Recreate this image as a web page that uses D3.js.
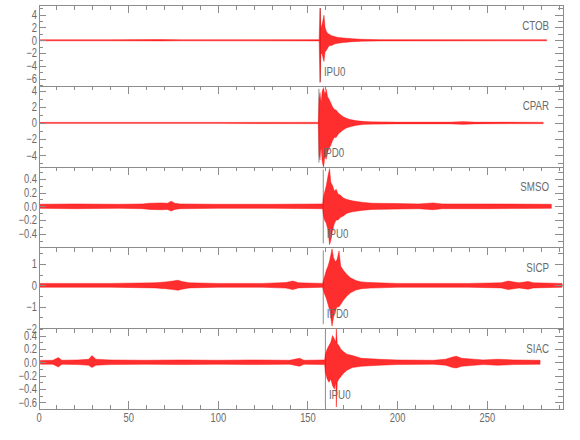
<!DOCTYPE html>
<html>
<head>
<meta charset="utf-8">
<script src="https://cdn.jsdelivr.net/npm/d3@7"></script>
<style>
body { margin: 0; background: #fff; }
svg { display: block; }
text { font-family: "Liberation Sans", Arial, sans-serif; }
.axis path, .axis line { stroke: #8c8c8c; stroke-width: 1; shape-rendering: crispEdges; }
.axis text { fill: #6a6a6a; font-size: 12px; }
</style>
</head>
<body>
<script>
var stations = ["CTOB", "CPAR", "SMSO", "SICP", "SIAC"];
var picks = ["IPU0", "IPD0", "IPU0", "IPD0", "IPU0"];
var pickTimes = [157.2, 156.4, 158.8, 158.8, 160.0];

var yDomains = [[-7.1, 5.5], [-5.4, 4.6], [-0.6, 0.58], [-2.0, 1.77], [-0.70, 0.51]];
var yMajor = [
	[-6, -4, -2, 0, 2, 4],
	[-4, -2, 0, 2, 4],
	[-0.4, -0.2, 0, 0.2, 0.4],
	[-2, -1, 0, 1],
	[-0.6, -0.4, -0.2, 0, 0.2, 0.4]
];
var yMinor = [
	[-7, -5, -3, -1, 1, 3, 5],
	[-5, -3, -1, 1, 3],
	[-0.5, -0.3, -0.1, 0.1, 0.3, 0.5],
	[-1.5, -0.5, 0.5, 1.5],
	[-0.7, -0.5, -0.3, -0.1, 0.1, 0.3, 0.5]
];
var yFormats = ["d", "d", ".1f", "d", ".1f"];

var xMajor = [0, 50, 100, 150, 200, 250];
var xMinor = [10, 20, 30, 40, 60, 70, 80, 90, 110, 120, 130, 140, 160, 170, 180, 190, 210, 220, 230, 240, 260, 270, 280, 290];

// trace envelopes: time (s), upper and lower amplitude
var ctobT  = [0.5, 40, 67, 80, 156.5, 157, 157.5, 158.2, 159.2, 159.8, 160.5, 161.5, 162.3, 163.5, 165, 167, 170, 175, 180, 190, 283.4];
var ctobHi = [0.08, 0.08, 0.12, 0.08, 0.1, 5.0, 1.8, 2.5, 3.9, 2.0, 1.4, 1.0, 0.9, 0.7, 0.6, 0.45, 0.35, 0.25, 0.15, 0.1, 0.08];
var ctobLo = [-0.08, -0.08, -0.1, -0.08, -0.1, -6.6, -2.0, -2.2, -3.3, -1.8, -1.6, -1.1, -0.8, -0.8, -0.6, -0.45, -0.35, -0.22, -0.15, -0.1, -0.08];

var cparT  = [0.5, 100, 156.0, 156.4, 157, 157.6, 158.2, 159, 159.7, 160.5, 161.3, 162, 163, 164, 165, 166, 167.5, 169.8, 171.5, 173.5, 177, 181, 186, 200, 230, 236.8, 243, 281.5];
var cparHi = [0.08, 0.08, 0.1, 3.0, 3.8, 2.6, 4.0, 4.4, 3.6, 4.2, 3.2, 3.0, 2.5, 2.0, 1.7, 1.6, 1.2, 0.8, 0.6, 0.45, 0.3, 0.2, 0.15, 0.12, 0.12, 0.18, 0.12, 0.1];
var cparLo = [-0.08, -0.08, -0.1, -4.0, -4.6, -3.0, -4.8, -5.6, -4.2, -4.5, -3.6, -3.2, -2.8, -2.2, -1.8, -1.8, -1.3, -0.9, -0.65, -0.5, -0.3, -0.2, -0.15, -0.12, -0.12, -0.18, -0.12, -0.1];

var smsoT  = [0.7, 20, 45, 58, 62, 68, 72, 74, 76, 79, 100, 130, 158.5, 158.8, 159.5, 160.5, 161.5, 162.3, 163, 164, 165, 166, 167, 168.5, 170, 172, 175, 180, 186, 200, 212, 220, 225, 250, 286];
var smsoHi = [0.03, 0.035, 0.03, 0.035, 0.045, 0.05, 0.045, 0.075, 0.045, 0.035, 0.03, 0.03, 0.035, 0.12, 0.2, 0.3, 0.45, 0.55, 0.35, 0.3, 0.22, 0.25, 0.18, 0.16, 0.12, 0.1, 0.08, 0.06, 0.045, 0.04, 0.035, 0.05, 0.035, 0.035, 0.03];
var smsoLo = [-0.03, -0.035, -0.03, -0.035, -0.045, -0.05, -0.045, -0.07, -0.045, -0.035, -0.03, -0.03, -0.035, -0.12, -0.2, -0.25, -0.35, -0.56, -0.5, -0.35, -0.25, -0.2, -0.2, -0.16, -0.14, -0.1, -0.08, -0.06, -0.045, -0.04, -0.035, -0.05, -0.035, -0.035, -0.03];

var sicpT  = [0.5, 20, 40, 65, 71, 75, 77.8, 80, 84, 100, 125, 138, 141.8, 145, 158.5, 158.8, 159.5, 160.5, 161.5, 162.5, 163.7, 164.5, 165.5, 166.5, 167.6, 168.5, 170, 172, 174, 177, 180, 185, 200, 240, 258, 262, 265, 268, 273, 276, 292];
var sicpHi = [0.09, 0.09, 0.09, 0.12, 0.16, 0.2, 0.24, 0.18, 0.12, 0.09, 0.09, 0.13, 0.2, 0.12, 0.09, 0.2, 0.4, 0.7, 0.9, 1.2, 1.7, 1.3, 1.1, 1.2, 1.6, 0.9, 0.7, 0.5, 0.35, 0.22, 0.16, 0.13, 0.09, 0.09, 0.12, 0.2, 0.16, 0.12, 0.18, 0.12, 0.09];
var sicpLo = [-0.09, -0.09, -0.09, -0.12, -0.16, -0.2, -0.23, -0.18, -0.12, -0.09, -0.09, -0.13, -0.2, -0.12, -0.09, -0.2, -0.4, -0.6, -0.9, -1.2, -1.9, -1.5, -1.2, -1.0, -1.0, -0.9, -0.7, -0.5, -0.35, -0.22, -0.16, -0.13, -0.09, -0.09, -0.12, -0.2, -0.16, -0.12, -0.18, -0.12, -0.09];

var siacT  = [1, 8, 11.1, 13, 22, 28, 29.8, 32, 40, 60, 80, 100, 120, 140, 145.6, 148, 159.6, 160, 161, 162, 163, 164, 165, 165.8, 166.1, 166.6, 167.5, 168.5, 170, 172, 175, 180, 190, 200, 220, 227, 231, 233, 236, 241, 248, 256, 265, 279.7];
var siacHi = [0.028, 0.03, 0.07, 0.03, 0.035, 0.045, 0.1, 0.045, 0.035, 0.03, 0.035, 0.03, 0.035, 0.03, 0.06, 0.03, 0.035, 0.12, 0.2, 0.25, 0.3, 0.4, 0.35, 0.3, 0.5, 0.28, 0.25, 0.2, 0.16, 0.12, 0.1, 0.06, 0.045, 0.035, 0.03, 0.045, 0.08, 0.09, 0.06, 0.05, 0.035, 0.045, 0.035, 0.03];
var siacLo = [-0.028, -0.03, -0.07, -0.03, -0.035, -0.045, -0.08, -0.045, -0.035, -0.03, -0.035, -0.03, -0.035, -0.03, -0.06, -0.03, -0.035, -0.15, -0.25, -0.3, -0.25, -0.35, -0.4, -0.3, -0.67, -0.3, -0.25, -0.22, -0.17, -0.12, -0.08, -0.06, -0.045, -0.035, -0.03, -0.045, -0.08, -0.085, -0.06, -0.05, -0.035, -0.045, -0.035, -0.03];

var traces = [
	[ctobT, ctobHi, ctobLo],
	[cparT, cparHi, cparLo],
	[smsoT, smsoHi, smsoLo],
	[sicpT, sicpHi, sicpLo],
	[siacT, siacHi, siacLo]
];

var W = 580, H = 440;
var panelTop = 5, panelH = 80.8;
var narrow = "scale(0.78,1)";

var svg = d3.select("body").append("svg")
	.attr("width", W)
	.attr("height", H);

var x = d3.scaleLinear().domain([0, 292.5]).range([38.5, 563]);

function label(g, px, py, txt, anchor) {
	g.append("text")
		.attr("transform", "translate(" + px + "," + py + ") " + narrow)
		.attr("text-anchor", anchor)
		.attr("fill", "#6a6a6a")
		.style("font-size", "12.5px")
		.text(txt);
}

function drawPanel(i) {
	var py = panelTop + i * panelH;
	var y = d3.scaleLinear().domain(yDomains[i]).range([py + panelH, py]);
	var g = svg.append("g").attr("class", "panel");

	var tr = traces[i];
	var pts = tr[0].map(function(t, k) { return {t: t, hi: tr[1][k], lo: tr[2][k]}; });

	// pick line
	g.append("line")
		.attr("x1", x(pickTimes[i])).attr("x2", x(pickTimes[i]))
		.attr("y1", py + 3).attr("y2", py + panelH - 4)
		.attr("stroke", "#8c8c8c")
		.attr("stroke-width", 1);

	var area = d3.area()
		.x(function(d) { return x(d.t); })
		.y0(function(d) { return y(d.lo); })
		.y1(function(d) { return y(d.hi); });

	g.append("path")
		.datum(pts)
		.attr("d", area)
		.attr("fill", "#ff0000")
		.attr("fill-opacity", 0.82)
		.attr("stroke", "#ff0000")
		.attr("stroke-opacity", i == 1 ? 0.5 : 0.85)
		.attr("stroke-width", 0.5)
		.attr("stroke-linejoin", "round");

	label(g, x(pickTimes[i]) + 3.5, py + 71, picks[i], "start");
	label(g, 549, py + 24.5, stations[i], "end");

	// left axis
	g.append("g").attr("class", "axis")
		.attr("transform", "translate(" + x.range()[0] + ",0)")
		.call(d3.axisLeft(y).tickValues(yMajor[i]).tickSize(-7).tickSizeOuter(0).tickPadding(2).tickFormat(d3.format(yFormats[i])))
		.selectAll("text").attr("transform", narrow);
	g.append("g").attr("class", "axis")
		.attr("transform", "translate(" + x.range()[0] + ",0)")
		.call(d3.axisLeft(y).tickValues(yMinor[i]).tickSize(-4).tickSizeOuter(0).tickFormat(""));

	// right axis
	g.append("g").attr("class", "axis")
		.attr("transform", "translate(" + x.range()[1] + ",0)")
		.call(d3.axisRight(y).tickValues(yMajor[i]).tickSize(-8).tickSizeOuter(0).tickFormat(""));
	g.append("g").attr("class", "axis")
		.attr("transform", "translate(" + x.range()[1] + ",0)")
		.call(d3.axisRight(y).tickValues(yMinor[i]).tickSize(-5).tickSizeOuter(0).tickFormat(""));

	// top ticks
	g.append("g").attr("class", "axis")
		.attr("transform", "translate(0," + py + ")")
		.call(d3.axisTop(x).tickValues(xMajor).tickSize(-8).tickSizeOuter(0).tickFormat(""));
	g.append("g").attr("class", "axis")
		.attr("transform", "translate(0," + py + ")")
		.call(d3.axisTop(x).tickValues(xMinor).tickSize(-4.5).tickSizeOuter(0).tickFormat(""));
}

for (var i = 0; i < stations.length; i++) {
	drawPanel(i);
}

var bottomY = panelTop + stations.length * panelH;
svg.append("g").attr("class", "axis")
	.attr("transform", "translate(0," + bottomY + ")")
	.call(d3.axisBottom(x).tickValues(xMajor).tickSize(-8).tickSizeOuter(0).tickPadding(4))
	.selectAll("text").attr("transform", narrow);
svg.append("g").attr("class", "axis")
	.attr("transform", "translate(0," + bottomY + ")")
	.call(d3.axisBottom(x).tickValues(xMinor).tickSize(-4.5).tickSizeOuter(0).tickFormat(""));
</script>
</body>
</html>
